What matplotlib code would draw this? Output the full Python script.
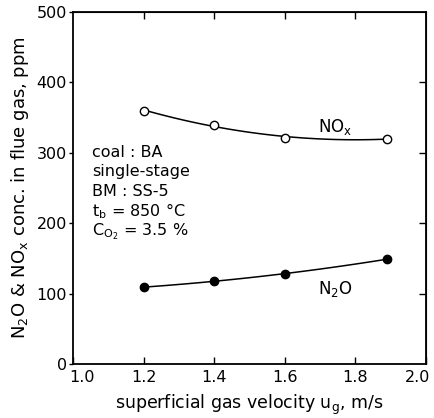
import numpy as np
import matplotlib
matplotlib.use("Agg")
import matplotlib.pyplot as plt
import matplotlib.transforms as mtransforms

plt.rcParams['font.family'] = ['DejaVu Sans']
plt.rcParams['mathtext.fontset'] = 'dejavusans'

# data
ug = [1.2, 1.4, 1.6, 1.89]
nox = [360, 340, 321, 320]
n2o = [109, 118, 128, 149]

xticks = [1.0, 1.2, 1.4, 1.6, 1.8, 2.0]
yticks = [0, 100, 200, 300, 400, 500]

conditions = ["coal : BA", "single-stage", "BM : SS-5",
              "t$_\\mathrm{b}$ = 850 °C", "C$_\\mathrm{O_2}$ = 3.5 %"]

fig = plt.figure(figsize=(4.35, 4.18), dpi=100)
ax = fig.add_axes([73 / 435, 1 - 364 / 418, 353 / 435, 352 / 418])

# fitted trend curves through the measured points
xs = np.linspace(min(ug), max(ug), 100)
for vals, face in [(nox, 'white'), (n2o, 'black')]:
    p = np.polyfit(ug, vals, 2)
    ax.plot(xs, np.polyval(p, xs), color='black', lw=1.1)
    ax.plot(ug, vals, 'o', ms=6, mfc=face, mec='black', mew=1.0, zorder=3)

ax.set_xlim(1.0, 2.0)
ax.set_ylim(0, 500)
ax.set_xticks(xticks)
ax.set_yticks(yticks)
ax.set_xticklabels([f"{v:.1f}" for v in xticks])
for s in ax.spines.values():
    s.set_linewidth(1.3)
ax.tick_params(axis='x', direction='in', length=5, width=1.0, labelsize=11.5, pad=4)
ax.tick_params(axis='y', direction='out', length=3, width=1.0, labelsize=11.5, pad=1.5)

# end labels sit a little inward, as in the original
lbls = ax.get_xticklabels()
lbls[0].set_transform(lbls[0].get_transform() + mtransforms.ScaledTranslation(0.09, 0, fig.dpi_scale_trans))
lbls[-1].set_transform(lbls[-1].get_transform() + mtransforms.ScaledTranslation(-0.08, 0, fig.dpi_scale_trans))

top = ax.secondary_xaxis('top')
top.set_xticks(xticks[1:-1])
top.tick_params(direction='in', length=5, width=1.0, labeltop=False)
right = ax.secondary_yaxis('right')
right.set_yticks(yticks[1:-1])
right.tick_params(direction='in', length=5, width=1.0, labelright=False)

ax.set_xlabel("superficial gas velocity u$_\\mathrm{g}$, m/s", fontsize=12.5, labelpad=6)
ax.set_ylabel("N$_\\mathrm{2}$O & NO$_\\mathrm{x}$ conc. in flue gas, ppm", fontsize=13, labelpad=4)

ax.text(1.694, 337, "NO$_\\mathrm{x}$", fontsize=12, va='center')
ax.text(1.694, 106, "N$_\\mathrm{2}$O", fontsize=12, va='center')

ys = [294, 267, 239, 210, 182]
for t, y in zip(conditions, ys):
    ax.text(1.054, y, t, fontsize=11.5, va='baseline')

fig.savefig("out.png", dpi=100)
